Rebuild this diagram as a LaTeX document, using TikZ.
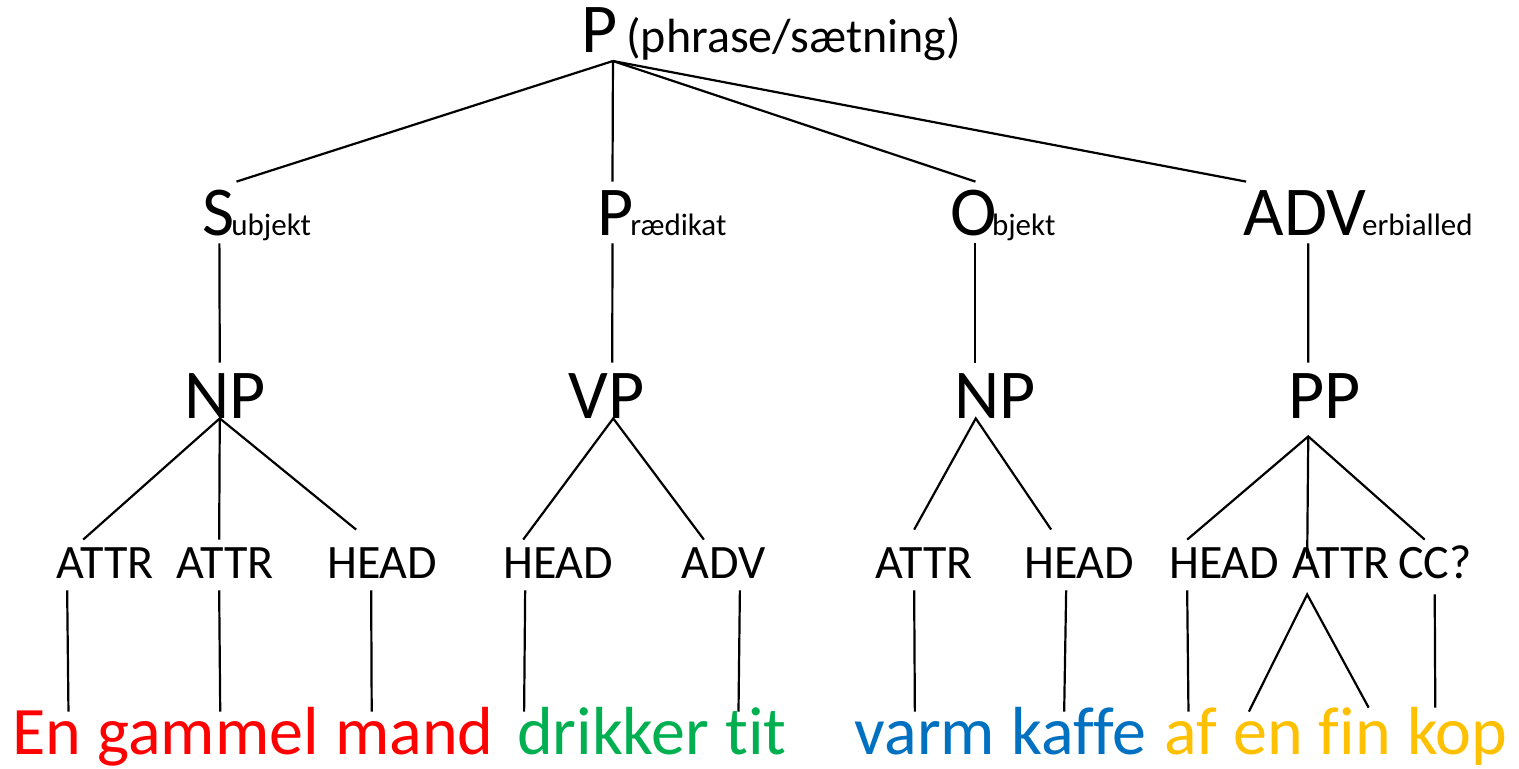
\documentclass[tikz,border=0pt]{standalone}
\usepackage{fontspec}
\setmainfont{Carlito}[Ligatures=NoCommon]
\usetikzlibrary{positioning}
\definecolor{WordRed}{HTML}{FF0000}
\definecolor{WordGreen}{HTML}{00B050}
\definecolor{WordBlue}{HTML}{0070C0}
\definecolor{WordGold}{HTML}{FFC000}

\begin{document}
\begin{tikzpicture}[x=0.5pt, y=-0.5pt,
    tree/.style={line width=1.1pt},
    big/.style={inner sep=0pt, font=\fontsize{35}{42}\selectfont},
    cat/.style={big, text height=26.5pt, text depth=4pt},
    phr/.style={big, text height=27.5pt, text depth=0pt},
    tail/.style={inner sep=0pt, font=\fontsize{15.5}{19}\selectfont},
    note/.style={inner sep=0pt, font=\fontsize{24}{29}\selectfont},
    role/.style={note, text height=19pt, text depth=6pt},
    word/.style={inner sep=0pt, font=\fontsize{34}{41}\selectfont, text height=21pt, text depth=0pt}]
    \path[fill=white] (0,0) rectangle (1519,768);

    % Root
    \node[big, anchor=base west] (p) at (581,52) {P};
    \node[note, base right=4pt of p] (pnote) {(phrase/sætning)};
    \coordinate (apex) at ([shift={(-2.5pt,-4.5pt)}]p.base east);

    % Clause functions
    \node[cat, anchor=base west] (subj) at (202,235) {S};
    \node[tail, base right=-2pt of subj] (subjt) {ubjekt};
    \node[cat, anchor=base west] (pred) at (597,235) {P};
    \node[tail, base right=-2pt of pred] (predt) {rædikat};
    \node[cat, anchor=base west] (obj) at (950.5,235) {O};
    \node[tail, base right=-3pt of obj] (objt) {bjekt};
    \node[cat, anchor=base west] (advb) at (1243.5,235) {ADV};
    \node[tail, base right=-2.5pt of advb] (advbt) {erbialled};

    \foreach \n/\d in {subj/9pt, pred/-1.5pt, obj/0.7pt, advb/-29.5pt}
        \draw[tree] (apex) -- ([xshift=\d]\n.north);

    % Phrases
    \node[phr, anchor=base west] (np1) at (183.7,418) {NP};
    \node[phr, anchor=base west] (vp) at (568.5,418) {VP};
    \node[phr, anchor=base west] (np2) at (953.7,418) {NP};
    \node[phr, anchor=base west] (pp) at (1287.7,418) {PP};

    \foreach \a/\b/\d/\e in {subj/np1/0.45pt/-2.5pt, pred/vp/-1.5pt/2.7pt,
                             obj/np2/0.65pt/-9.7pt, advb/pp/1.5pt/-8pt}
        \draw[tree] ([xshift=\d]\a.south) -- ([xshift=\e]\b.north);

    % Roles
    \node[role, anchor=base west] (attr1) at (56,578) {ATTR};
    \node[role, anchor=base west] (attr2) at (176,578) {ATTR};
    \node[role, anchor=base west] (head1) at (326.7,578) {HEAD};
    \node[role, anchor=base west] (head2) at (502.7,578) {HEAD};
    \node[role, anchor=base west] (adv1) at (681.5,578) {ADV};
    \node[role, anchor=base west] (attr3) at (875,578) {ATTR};
    \node[role, anchor=base west] (head3) at (1023.7,578) {HEAD};
    \node[role, anchor=base west] (head4) at (1168.7,578) {HEAD};
    \node[role, anchor=base west] (attr4) at (1292,578) {ATTR};
    \node[role, anchor=base west] (cc) at (1397.6,578) {CC?};

    \draw[tree] ([xshift=-11pt]attr1.north) -- ([xshift=-2.5pt]np1.south)
        -- ([shift={(-13pt,5pt)}]head1.north);
    \draw[tree] ([xshift=-2.5pt]np1.south) -- ([xshift=-3pt]attr2.north);
    \draw[tree] ([xshift=-17.5pt]head2.north) -- ([xshift=3.2pt]vp.south)
        -- ([xshift=-10pt]adv1.north);
    \draw[tree] ([shift={(-5pt,5pt)}]attr3.north) -- ([xshift=-9.5pt]np2.south)
        -- ([shift={(-14pt,5pt)}]head3.north);
    \draw[tree] ([xshift=-18.5pt]head4.north) -- ([shift={(-8pt,-9pt)}]pp.south)
        -- ([xshift=-5pt]cc.north);
    \draw[tree] ([shift={(-8pt,-9pt)}]pp.south) -- ([shift={(-17pt,-9.5pt)}]attr4.north);

    % Words
    \node[word, WordRed, anchor=base west] (en) at (12,754) {En};
    \node[word, WordRed, base right=7.7pt of en] (gammel) {gammel};
    \node[word, WordRed, base right=7.7pt of gammel] (mand) {mand};
    \node[word, WordGreen, anchor=base west] (drikker) at (516.6,754) {drikker};
    \node[word, WordGreen, base right=7.7pt of drikker] (tit) {tit};
    \node[word, WordBlue, anchor=base west] (varm) at (854.3,754) {varm};
    \node[word, WordBlue, base right=7.7pt of varm] (kaffe) {kaffe};
    \node[word, WordGold, anchor=base west] (af) at (1163.6,754) {af};
    \node[word, WordGold, base right=7.7pt of af] (en2) {en};
    \node[word, WordGold, base right=7.7pt of en2] (fin) {fin};
    \node[word, WordGold, base right=7.7pt of fin] (kop) {kop};

    \foreach \a/\b/\d/\e in {attr1/en/-19pt/10.8pt, attr2/gammel/-3pt/6pt,
                             head1/mand/-5.5pt/-21.3pt, head2/drikker/-16.5pt/-44.5pt,
                             adv1/tit/8pt/-8.75pt, attr3/varm/-5pt/-5pt,
                             head3/kaffe/-6.5pt/-7.25pt, head4/af/-18.5pt/-1pt}
        \draw[tree] ([xshift=\d]\a.south) -- ([xshift=\e]\b.north);
    \draw[tree] ([xshift=-9.5pt]en2.north) -- ([shift={(-17pt,-2pt)}]attr4.south)
        -- ([shift={(6.85pt,2pt)}]fin.north);
    \draw[tree] ([yshift=-2pt]cc.south) -- ([shift={(-11pt,2pt)}]kop.north);
\end{tikzpicture}
\end{document}
